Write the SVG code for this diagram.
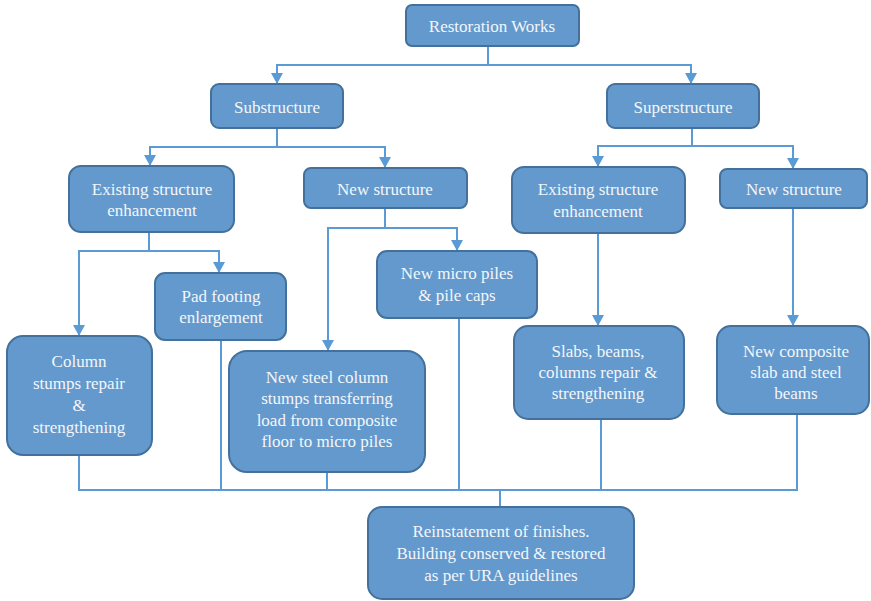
<svg xmlns="http://www.w3.org/2000/svg" width="871" height="601" viewBox="0 0 871 601">
<style>
.box{fill:#6399cc;stroke:#43719c;stroke-width:2}
.c{fill:none;stroke:#5b9bd5;stroke-width:2}
</style>
<defs>
<marker id="ah" viewBox="0 0 11 12" refX="11" refY="6" markerWidth="11" markerHeight="12" markerUnits="userSpaceOnUse" orient="auto">
<path d="M0,0 L11,6 L0,12 Z" fill="#5b9bd5"/>
</marker>
</defs>
<rect width="871" height="601" fill="#ffffff"/>
<g id="connectors">
<path class="c" d="M488,46 V65"/>
<path class="c" d="M488,65 H277 V84" marker-end="url(#ah)"/>
<path class="c" d="M488,65 H691 V84" marker-end="url(#ah)"/>
<path class="c" d="M277,128 V147"/>
<path class="c" d="M277,147 H150 V166" marker-end="url(#ah)"/>
<path class="c" d="M277,147 H385 V168" marker-end="url(#ah)"/>
<path class="c" d="M692,128 V146"/>
<path class="c" d="M692,146 H598 V167" marker-end="url(#ah)"/>
<path class="c" d="M692,146 H793 V169" marker-end="url(#ah)"/>
<path class="c" d="M149,232 V251"/>
<path class="c" d="M149,251 H79 V336" marker-end="url(#ah)"/>
<path class="c" d="M149,251 H219 V273" marker-end="url(#ah)"/>
<path class="c" d="M385,208 V228"/>
<path class="c" d="M385,228 H328 V351" marker-end="url(#ah)"/>
<path class="c" d="M385,228 H457 V251" marker-end="url(#ah)"/>
<path class="c" d="M598,233 V326" marker-end="url(#ah)"/>
<path class="c" d="M793,208 V326" marker-end="url(#ah)"/>
<path class="c" d="M79,455 V490 H797 V414"/>
<path class="c" d="M221,340 V490"/>
<path class="c" d="M327,472 V490"/>
<path class="c" d="M459,318 V490"/>
<path class="c" d="M601,419 V490"/>
<path class="c" d="M500,490 V507"/>
</g>
<g id="n-restoration">
<rect class="box" x="406" y="5" width="173" height="41" rx="6"/>
<text font-family="Liberation Serif" font-size="17" fill="#f4f6fa" text-anchor="middle" x="492" y="32">Restoration Works</text>
</g>
<g id="n-substructure">
<rect class="box" x="211" y="84" width="132" height="44" rx="8"/>
<text font-family="Liberation Serif" font-size="17" fill="#f4f6fa" text-anchor="middle" x="277" y="113">Substructure</text>
</g>
<g id="n-superstructure">
<rect class="box" x="607" y="84" width="152" height="44" rx="8"/>
<text font-family="Liberation Serif" font-size="17" fill="#f4f6fa" text-anchor="middle" x="683" y="113">Superstructure</text>
</g>
<g id="n-existing-sub">
<rect class="box" x="69" y="166" width="165" height="66" rx="12"/>
<text font-family="Liberation Serif" font-size="17" fill="#f4f6fa" text-anchor="middle" x="152" y="195">Existing structure</text>
<text font-family="Liberation Serif" font-size="17" fill="#f4f6fa" text-anchor="middle" x="152" y="216">enhancement</text>
</g>
<g id="n-new-sub">
<rect class="box" x="304" y="168" width="163" height="40" rx="7"/>
<text font-family="Liberation Serif" font-size="17" fill="#f4f6fa" text-anchor="middle" x="385" y="195">New structure</text>
</g>
<g id="n-existing-super">
<rect class="box" x="512" y="167" width="173" height="66" rx="12"/>
<text font-family="Liberation Serif" font-size="17" fill="#f4f6fa" text-anchor="middle" x="598" y="195">Existing structure</text>
<text font-family="Liberation Serif" font-size="17" fill="#f4f6fa" text-anchor="middle" x="598" y="217">enhancement</text>
</g>
<g id="n-new-super">
<rect class="box" x="720" y="169" width="147" height="39" rx="7"/>
<text font-family="Liberation Serif" font-size="17" fill="#f4f6fa" text-anchor="middle" x="794" y="195">New structure</text>
</g>
<g id="n-pad-footing">
<rect class="box" x="155" y="273" width="131" height="67" rx="10"/>
<text font-family="Liberation Serif" font-size="17" fill="#f4f6fa" text-anchor="middle" x="221" y="302">Pad footing</text>
<text font-family="Liberation Serif" font-size="17" fill="#f4f6fa" text-anchor="middle" x="221" y="323">enlargement</text>
</g>
<g id="n-micro-piles">
<rect class="box" x="377" y="251" width="160" height="67" rx="10"/>
<text font-family="Liberation Serif" font-size="17" fill="#f4f6fa" text-anchor="middle" x="457" y="279">New micro piles</text>
<text font-family="Liberation Serif" font-size="17" fill="#f4f6fa" text-anchor="middle" x="457" y="301">&amp; pile caps</text>
</g>
<g id="n-column-stumps">
<rect class="box" x="7" y="336" width="145" height="119" rx="16"/>
<text font-family="Liberation Serif" font-size="17" fill="#f4f6fa" text-anchor="middle" x="79" y="367">Column</text>
<text font-family="Liberation Serif" font-size="17" fill="#f4f6fa" text-anchor="middle" x="79" y="389">stumps repair</text>
<text font-family="Liberation Serif" font-size="17" fill="#f4f6fa" text-anchor="middle" x="79" y="411">&amp;</text>
<text font-family="Liberation Serif" font-size="17" fill="#f4f6fa" text-anchor="middle" x="79" y="433">strengthening</text>
</g>
<g id="n-new-steel">
<rect class="box" x="229" y="351" width="196" height="121" rx="18"/>
<text font-family="Liberation Serif" font-size="17" fill="#f4f6fa" text-anchor="middle" x="327" y="383">New steel column</text>
<text font-family="Liberation Serif" font-size="17" fill="#f4f6fa" text-anchor="middle" x="327" y="404">stumps transferring</text>
<text font-family="Liberation Serif" font-size="17" fill="#f4f6fa" text-anchor="middle" x="327" y="426">load from composite</text>
<text font-family="Liberation Serif" font-size="17" fill="#f4f6fa" text-anchor="middle" x="327" y="447">floor to micro piles</text>
</g>
<g id="n-slabs">
<rect class="box" x="514" y="326" width="170" height="93" rx="14"/>
<text font-family="Liberation Serif" font-size="17" fill="#f4f6fa" text-anchor="middle" x="598" y="357">Slabs, beams,</text>
<text font-family="Liberation Serif" font-size="17" fill="#f4f6fa" text-anchor="middle" x="598" y="378">columns repair &amp;</text>
<text font-family="Liberation Serif" font-size="17" fill="#f4f6fa" text-anchor="middle" x="598" y="399">strengthening</text>
</g>
<g id="n-composite">
<rect class="box" x="717" y="326" width="152" height="88" rx="14"/>
<text font-family="Liberation Serif" font-size="17" fill="#f4f6fa" text-anchor="middle" x="796" y="357">New composite</text>
<text font-family="Liberation Serif" font-size="17" fill="#f4f6fa" text-anchor="middle" x="796" y="378">slab and steel</text>
<text font-family="Liberation Serif" font-size="17" fill="#f4f6fa" text-anchor="middle" x="796" y="399">beams</text>
</g>
<g id="n-reinstatement">
<rect class="box" x="368" y="507" width="266" height="92" rx="14"/>
<text font-family="Liberation Serif" font-size="17" fill="#f4f6fa" text-anchor="middle" x="501" y="537">Reinstatement of finishes.</text>
<text font-family="Liberation Serif" font-size="17" fill="#f4f6fa" text-anchor="middle" x="501" y="559">Building conserved &amp; restored</text>
<text font-family="Liberation Serif" font-size="17" fill="#f4f6fa" text-anchor="middle" x="501" y="581">as per URA guidelines</text>
</g>
</svg>
